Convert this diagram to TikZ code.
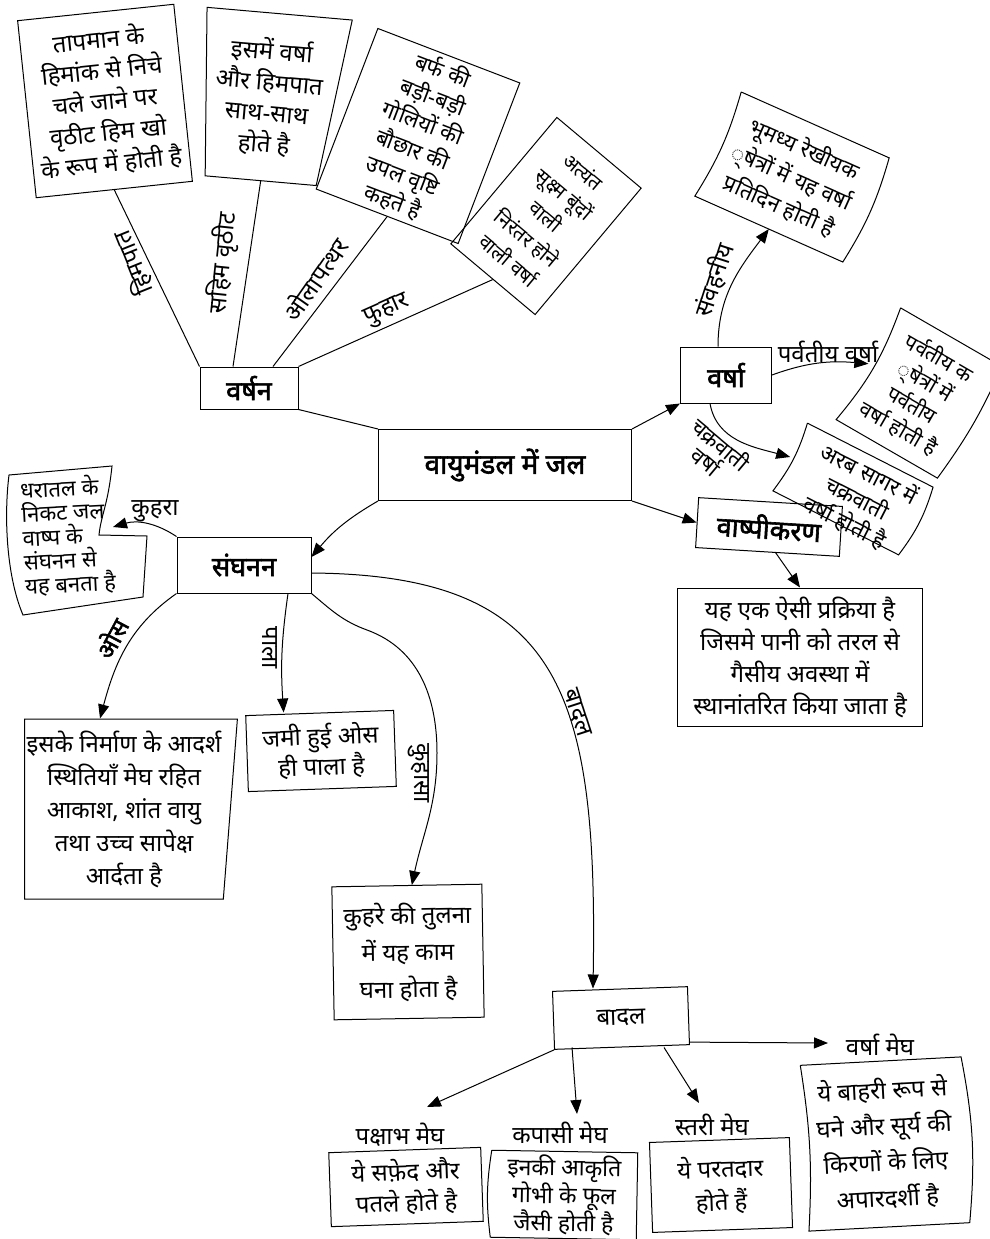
\documentclass[tikz,border=0pt]{standalone}
\usepackage{fontspec}
\setmainfont{Noto Sans}[Script=Devanagari]
\newfontfamily\headfont{Noto Sans}[Script=Devanagari, FakeBold=2.2]
\usepackage{tikz}
\usetikzlibrary{arrows.meta,shapes.geometric}
\tikzstyle{note} = [draw, align=center, inner sep=2pt, font={\fontsize{24}{31}\selectfont}]
\tikzstyle{head} = [draw, inner sep=2pt, font={\headfont\fontsize{27}{30}\selectfont}]
\tikzstyle{tag} = [inner sep=1pt, font={\fontsize{24}{26}\selectfont}]
\tikzstyle{arr} = [-{Triangle[length=14pt,width=11pt]}]
\newcommand{\wavyframe}[3]{\draw (#1.north west) -- (#1.north east) to[#2] (#1.south east) -- (#1.south west) to[#3] (#1.north west);}

\begin{document}
\begin{tikzpicture}[x=1pt,y=1pt,line width=1pt]
  \useasboundingbox (0,0) rectangle (989,-1239);
  \node[head, minimum width=253, minimum height=71, font={\headfont\fontsize{28}{30}\selectfont}](root) at (505,-465){वायुमंडल में जल};
  \node[head, minimum width=98, minimum height=42](varshan) at (249,-388){वर्षन};
  \node[head, minimum width=134, minimum height=56](sanghanan) at (244,-565){संघनन};
  \node[head, minimum width=91, minimum height=56](varsha) at (726,-375){वर्षा};
  \node[head, rotate=-3.5, minimum width=144, minimum height=50](vashpi) at (769,-527){वाष्पीकरण};

  \node[note, rotate=6, minimum width=157, minimum height=178](himpat) at (105,-101){तापमान के\\हिमांक से निचे\\चले जाने पर\\वृठीट हिम खो\\के रूप में होती है};
  \node[note, trapezium, shape border rotate=180, trapezium left angle=80, trapezium right angle=84, trapezium stretches body, rotate=-5, minimum width=145, minimum height=168](sahim) at (268,-97){इसमें वर्षा\\और हिमपात\\साथ-साथ\\होते है};
  \node[note, rotate=-21, minimum width=152, minimum height=172, font={\fontsize{22}{28}\selectfont}](ola) at (418,-136){बर्फ की\\बड़ी-बड़ी\\गोलियों की\\बौछार की\\उपल वृष्टि\\कहते है};
  \node[note, rotate=-40, minimum width=110, minimum height=165, font={\fontsize{20}{29}\selectfont}](fuhar) at (546,-216){अत्यंत\\सूक्ष्म बूंदों\\वाली\\निरंतर होने\\वाली वर्षा};
  \draw (varshan.north west) -- (himpat.south);
  \draw ([xshift=-16]varshan.north) -- (sahim.south);
  \draw ([xshift=24]varshan.north) -- (ola.south);
  \draw (varshan.north east) -- (fuhar.south);
  \node[tag, rotate=112](himpatlbl) at (133,-263){हिमपात};
  \node[tag, rotate=84](sahimlbl) at (223,-263){सहिम वृठीट};
  \node[tag, rotate=55](olalbl) at (315,-279){ओलापत्थर};
  \node[tag, rotate=24](fuharlbl) at (387,-311){फुहार};

  \draw (root.north west) -- (varshan.south east);
  \draw[arr] (root.north east) -- (varsha.south west);
  \draw[arr] (root.south east) -- (vashpi.west);
  \draw[arr] (root.south west) to[bend right=10] ([yshift=8]sanghanan.east);

  \node[note, draw=none, rotate=-24, minimum width=161, minimum height=113, font={\fontsize{22}{31}\selectfont}](samvahan) at (792,-177){भूमध्य रेखीयक\\्षेत्रों में यह वर्षा\\प्रतिदिन होती है};
  \wavyframe{samvahan}{bend left=8}{bend right=8}
  \node[note, draw=none, rotate=-30, minimum width=116, minimum height=128, font={\fontsize{21}{27}\selectfont}](parvat) at (919,-393){पर्वतीय क\\्षेत्रों में\\पर्वतीय\\वर्षा होती है};
  \wavyframe{parvat}{bend left=6}{bend right=10}
  \node[note, draw=none, rotate=-27, minimum width=140, minimum height=75](chakra) at (853,-489){};
  \wavyframe{chakra}{bend left=10}{bend right=10}
  \node[rotate=-27, align=center, inner sep=0pt, font={\fontsize{22}{27}\selectfont}](chakratext) at (857,-498){अरब सागर में\\चक्रवाती\\वर्षा होती है};
  \draw[arr] ([xshift=-8]varsha.north) to[out=90,in=233] (samvahan.south);
  \draw[arr] (varsha.east) to[out=20,in=175] (parvat.west);
  \draw[arr] ([xshift=-16]varsha.south) to[out=-80,in=165] (chakra.west);
  \node[tag, rotate=72](samvahanlbl) at (714,-280){संवहनीय};
  \node[tag](parvatlbl) at (828,-352){पर्वतीय वर्षा};
  \node[tag, rotate=-40, align=center, font={\fontsize{22}{22}\selectfont}](chakralbl) at (714,-452){चक्रवाती\\वर्षा};

  \node[note, minimum width=245, minimum height=138, font={\fontsize{24}{32}\selectfont}](vashpidesc) at (800,-657){यह एक ऐसी प्रक्रिया है\\जिसमे पानी को तरल से\\गैसीय अवस्था में\\स्थानांतरित किया जाता है};
  \draw[arr] ([xshift=8]vashpi.south) -- (vashpidesc.north);

  \node[align=left, rotate=3, inner sep=0pt, font={\fontsize{22}{24}\selectfont}](fog) at (68,-536){धरातल के\\निकट जल\\वाष्प के\\संघनन से\\यह बनता है};
  \draw (9,-475) -- (112,-466) .. controls (108,-505) and (101,-515) .. (99,-535) -- (147,-536) -- (143,-597) -- (23,-615) .. controls (6,-575) and (4,-515) .. (9,-475) -- cycle;
  \coordinate (fogtip) at (113,-527);
  \draw[arr] (sanghanan.north west) to[bend right=25] (fogtip);
  \node[tag](kuhralbl) at (155,-511){कुहरा};

  \node[note, trapezium, shape border rotate=180, trapezium left angle=85, trapezium right angle=90, trapezium stretches body, minimum width=212, minimum height=180, font={\fontsize{24}{33}\selectfont}](oas) at (124,-809){इसके निर्माण के आदर्श\\स्थितियाँ मेघ रहित\\आकाश, शांत वायु\\तथा उच्च सापेक्ष\\आर्दता है};
  \node[note, rotate=2, minimum width=148, minimum height=76, font={\fontsize{24}{28}\selectfont}](pala) at (321,-751){जमी हुई ओस\\ही पाला है};
  \node[note, rotate=1, minimum width=150, minimum height=133, font={\fontsize{24}{37}\selectfont}](kuhasa) at (408,-952){कुहरे की तुलना\\में यह काम\\घना होता है};
  \draw[arr] (sanghanan.south west) to[out=-145,in=75] ([xshift=-24]oas.north);
  \draw[arr] ([xshift=44]sanghanan.south) to[bend right=6] ([xshift=-36]pala.north);
  \draw[arr] (sanghanan.south east) to[out=-40,in=160] (367,-630) to[out=-20,in=90] (437,-753) to[out=-90,in=78] ([xshift=5]kuhasa.north);
  \node[tag, font={\headfont\fontsize{24}{26}\selectfont}, rotate=62](oaslbl) at (111,-638){ओस};
  \node[tag, rotate=-90](palalbl) at (270,-648){पाला};
  \node[tag, rotate=-90](kuhasalbl) at (419,-773){कुहासा};

  \node[note, rotate=2, minimum width=135, minimum height=58](badal) at (621,-1018){बादल};
  \draw[arr] ([yshift=-8]sanghanan.east) .. controls (560,-575) and (598,-690) .. ([xshift=-27]badal.north);
  \node[tag, rotate=-72](badallbl) at (577,-713){बादल};

  \coordinate (pakend) at (427,-1107);
  \coordinate (kapend) at (577,-1114);
  \coordinate (starend) at (699,-1103);
  \coordinate (vmend) at (828,-1043);
  \draw[arr] (badal.south west) -- (pakend);
  \draw[arr] ([xshift=-50]badal.south) -- (kapend);
  \draw[arr] ([xshift=42]badal.south) -- (starend);
  \draw[arr] ([yshift=3]badal.south east) -- (vmend);
  \node[tag](paklbl) at (400,-1135){पक्षाभ मेघ};
  \node[tag](kaplbl) at (560,-1133){कपासी मेघ};
  \node[tag](starlbl) at (712,-1125){स्तरी मेघ};
  \node[tag](vmlbl) at (880,-1045){वर्षा मेघ};
  \node[note, rotate=2, minimum width=152, minimum height=74, font={\fontsize{24}{31}\selectfont}](pakdesc) at (406,-1187){ये सफ़ेद और\\पतले होते है};
  \node[note, draw=none, rotate=-1, minimum width=145, minimum height=86, font={\fontsize{23}{25}\selectfont}](kapdesc) at (564,-1195){इनकी आकृति\\गोभी के फूल\\जैसी होती है};
  \wavyframe{kapdesc}{}{bend left=8}
  \node[note, rotate=2, minimum width=140, minimum height=90, font={\fontsize{24}{33}\selectfont}](stardesc) at (721,-1185){ये परतदार\\होते हैं};
  \node[note, draw=none, rotate=3, minimum width=160, minimum height=165, font={\fontsize{24}{36}\selectfont}](vmdesc) at (885,-1144){ये बाहरी रूप से\\घने और सूर्य की\\किरणों के लिए\\अपारदर्शी है};
  \wavyframe{vmdesc}{bend left=8}{bend right=6}
\end{tikzpicture}
\end{document}
